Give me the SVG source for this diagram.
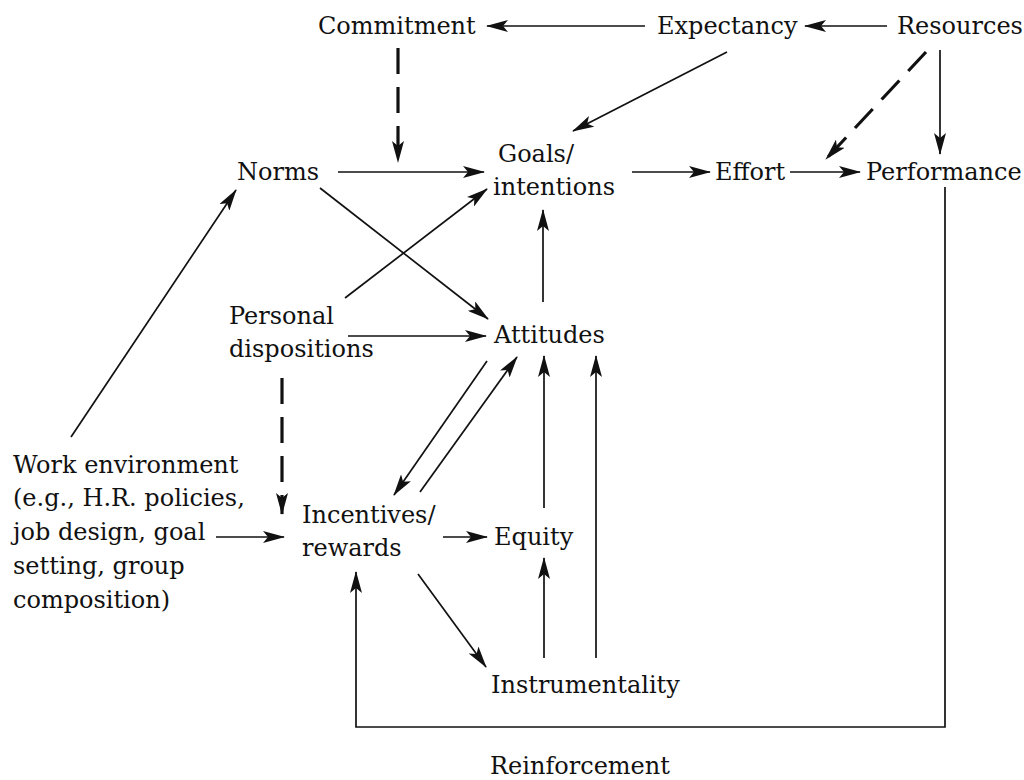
<svg xmlns="http://www.w3.org/2000/svg" width="1024" height="780" viewBox="0 0 1024 780">
  <style>
    text { font-family: "DejaVu Serif", "Liberation Serif", serif; font-size: 24px; fill: #111; }
    .ln { stroke: #111; stroke-width: 1.7; fill: none; }
    .dash { stroke: #111; stroke-width: 3.2; fill: none; stroke-dasharray: 26 13; }
  </style>
  <defs>
    <marker id="ah" viewBox="0 0 22 12" refX="21" refY="6" markerWidth="22" markerHeight="12" markerUnits="userSpaceOnUse" orient="auto">
      <path d="M0,0 L22,6 L0,12 L5,6 Z" fill="#111"/>
    </marker>
  </defs>
  <rect width="1024" height="780" fill="#fff"/>

  <g id="connectors">
    <line class="ln" x1="645" y1="26" x2="487" y2="26" marker-end="url(#ah)"/>
    <line class="ln" x1="887" y1="26" x2="805" y2="26" marker-end="url(#ah)"/>
    <line class="dash" x1="398" y1="48" x2="398" y2="162" marker-end="url(#ah)"/>
    <line class="ln" x1="727" y1="52" x2="573" y2="131" marker-end="url(#ah)"/>
    <line class="dash" x1="926" y1="52" x2="826" y2="159" marker-end="url(#ah)"/>
    <line class="ln" x1="940" y1="50" x2="940" y2="154" marker-end="url(#ah)"/>
    <line class="ln" x1="338" y1="172" x2="484" y2="172" marker-end="url(#ah)"/>
    <line class="ln" x1="632" y1="172" x2="710" y2="172" marker-end="url(#ah)"/>
    <line class="ln" x1="790" y1="172" x2="860" y2="172" marker-end="url(#ah)"/>
    <line class="ln" x1="320" y1="188" x2="488" y2="319" marker-end="url(#ah)"/>
    <line class="ln" x1="345" y1="298" x2="487" y2="189" marker-end="url(#ah)"/>
    <line class="ln" x1="543" y1="302" x2="543" y2="210" marker-end="url(#ah)"/>
    <line class="ln" x1="348" y1="336" x2="486" y2="336" marker-end="url(#ah)"/>
    <line class="dash" x1="282" y1="378" x2="282" y2="514" marker-end="url(#ah)"/>
    <line class="ln" x1="487" y1="361" x2="394" y2="495" marker-end="url(#ah)"/>
    <line class="ln" x1="420" y1="492" x2="517" y2="357" marker-end="url(#ah)"/>
    <line class="ln" x1="544" y1="508" x2="544" y2="356" marker-end="url(#ah)"/>
    <line class="ln" x1="596" y1="658" x2="596" y2="356" marker-end="url(#ah)"/>
    <line class="ln" x1="71" y1="437" x2="236" y2="190" marker-end="url(#ah)"/>
    <line class="ln" x1="216" y1="537" x2="284" y2="537" marker-end="url(#ah)"/>
    <line class="ln" x1="443" y1="537" x2="487" y2="537" marker-end="url(#ah)"/>
    <line class="ln" x1="544" y1="658" x2="544" y2="558" marker-end="url(#ah)"/>
    <line class="ln" x1="418" y1="574" x2="486" y2="667" marker-end="url(#ah)"/>
    <polyline class="ln" points="945,187 945,727 356,727 356,572" marker-end="url(#ah)"/>
  </g>

  <g id="commitment"><text x="318" y="34">Commitment</text></g>
  <g id="expectancy"><text x="657" y="34">Expectancy</text></g>
  <g id="resources"><text x="897" y="34">Resources</text></g>
  <g id="norms"><text x="237" y="180">Norms</text></g>
  <g id="goals"><text x="498" y="162">Goals/</text><text x="493" y="195">intentions</text></g>
  <g id="effort"><text x="715" y="180">Effort</text></g>
  <g id="performance"><text x="866" y="180">Performance</text></g>
  <g id="personal"><text x="229" y="324">Personal</text><text x="229" y="357">dispositions</text></g>
  <g id="attitudes"><text x="494" y="343">Attitudes</text></g>
  <g id="work">
    <text x="13" y="473">Work environment</text>
    <text x="13" y="506">(e.g., H.R. policies,</text>
    <text x="13" y="540">job design, goal</text>
    <text x="13" y="574">setting, group</text>
    <text x="13" y="608">composition)</text>
  </g>
  <g id="incentives"><text x="302" y="523">Incentives/</text><text x="302" y="556">rewards</text></g>
  <g id="equity"><text x="494" y="545">Equity</text></g>
  <g id="instrumentality"><text x="491" y="693">Instrumentality</text></g>
  <g id="reinforcement"><text x="490" y="774">Reinforcement</text></g>
</svg>
